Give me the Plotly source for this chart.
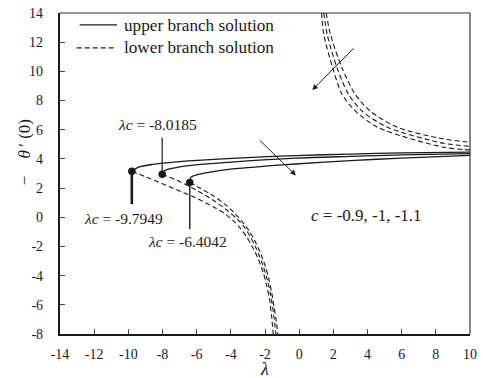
import plotly.graph_objects as go

# ---- data -------------------------------------------------------------
# critical points lambda_c and the corresponding -theta'(0)
lam_c = [-9.7949, -8.0185, -6.4042]
theta_c = [3.15, 2.95, 2.38]

# upper branch solutions (solid)
up1_x = [-9.7949, -9.4, -8.6, -7.5, -6.5, -5.0, -3.0, -0.2, 3.0, 6.0, 10.0]
up1_y = [3.15, 3.43, 3.62, 3.76, 3.86, 3.97, 4.09, 4.23, 4.33, 4.41, 4.47]
up2_x = [-8.0185, -7.86, -7.1, -5.75, -3.8, -0.2, 3.0, 6.0, 10.0]
up2_y = [2.95, 3.21, 3.43, 3.62, 3.80, 4.05, 4.17, 4.27, 4.36]
up3_x = [-6.4042, -6.33, -5.94, -5.2, -4.0, -2.0, -0.2, 3.0, 6.0, 10.0]
up3_y = [2.38, 2.75, 2.93, 3.10, 3.30, 3.50, 3.65, 3.88, 4.06, 4.24]

# lower branch solutions (dashed), left part
lo1_x = [-9.7949, -9.0, -8.0, -7.0, -6.0, -5.0, -4.3, -3.8, -3.45, -3.1, -2.75, -2.4, -2.1, -1.9, -1.74, -1.62, -1.52]
lo1_y = [3.15, 2.78, 2.3, 1.8, 1.3, 0.7, 0.2, -0.3, -0.75, -1.3, -2.0, -2.85, -3.8, -4.7, -5.6, -6.7, -8.0]
lo2_x = [-8.0185, -7.0, -6.0, -5.0, -4.22, -3.6, -3.2, -2.85, -2.49, -2.12, -1.84, -1.64, -1.49, -1.36]
lo2_y = [2.95, 2.45, 1.85, 1.15, 0.48, -0.15, -0.7, -1.35, -2.2, -3.3, -4.4, -5.5, -6.7, -8.0]
lo3_x = [-6.4042, -5.8, -5.0, -4.3, -3.8, -3.3, -2.95, -2.6, -2.3, -2.0, -1.78, -1.6, -1.46, -1.34, -1.25]
lo3_y = [2.38, 2.0, 1.45, 0.85, 0.3, -0.35, -0.9, -1.6, -2.35, -3.3, -4.2, -5.2, -6.2, -7.1, -8.0]

# lower branch solutions (dashed), right part
hi1_x = [1.58, 1.83, 2.5, 3.27, 4.13, 5.74, 8.45, 10.0]
hi1_y = [14.0, 12.54, 10.26, 8.45, 7.31, 6.17, 5.37, 5.14]
hi2_x = [1.44, 1.64, 2.21, 2.88, 3.65, 5.17, 8.45, 10.0]
hi2_y = [14.0, 12.54, 10.26, 8.45, 7.31, 6.17, 5.07, 4.87]
hi3_x = [1.31, 1.44, 1.96, 2.5, 3.27, 4.59, 8.45, 10.0]
hi3_y = [14.0, 12.54, 10.26, 8.45, 7.31, 6.17, 4.80, 4.62]

x_ticks = [-14, -12, -10, -8, -6, -4, -2, 0, 2, 4, 6, 8, 10]
x_tick_text = ["-14", "-12", "-10", "-8", "-6", "-4", "-2", "0", "2", "4", "6", "8", "10"]
y_ticks = [-8, -6, -4, -2, 0, 2, 4, 6, 8, 10, 12, 14]
y_tick_text = ["-8", "-6", "-4", "-2", "0", "2", "4", "6", "8", "10", "12", "14"]

# ---- figure -------------------------------------------------------------
FONT = "Liberation Serif, Times New Roman, serif"
INK = "#1a1a1a"
W, H = 483, 378
L, R, T, B = 60, 6, 12, 44
pw, ph = W - L - R, H - T - B


def px(x):
    return (x - L) / pw


def py(y):
    return (H - B - y) / ph


fig = go.Figure()

solid = dict(color=INK, width=1.3)
dashed = dict(color=INK, width=1.1, dash="5px,3px")

for xs, ys in [(up1_x, up1_y), (up2_x, up2_y), (up3_x, up3_y)]:
    fig.add_trace(go.Scatter(x=xs, y=ys, mode="lines", line=dict(**solid, shape="spline", smoothing=0.8),
                             showlegend=False, hoverinfo="skip"))
for xs, ys in [(lo1_x, lo1_y), (lo2_x, lo2_y), (lo3_x, lo3_y),
               (hi1_x, hi1_y), (hi2_x, hi2_y), (hi3_x, hi3_y)]:
    fig.add_trace(go.Scatter(x=xs, y=ys, mode="lines", line=dict(**dashed, shape="spline", smoothing=0.8),
                             showlegend=False, hoverinfo="skip"))

fig.add_trace(go.Scatter(x=lam_c, y=theta_c, mode="markers",
                         marker=dict(color=INK, size=7.5), showlegend=False, hoverinfo="skip"))

shapes = []
# leader lines from the critical points to their labels
shapes.append(dict(type="line", xref="x", yref="y", x0=lam_c[0], x1=lam_c[0], y0=theta_c[0], y1=0.9,
                   line=dict(color=INK, width=2.6)))
shapes.append(dict(type="line", xref="x", yref="y", x0=lam_c[1], x1=lam_c[1], y0=theta_c[1], y1=5.45,
                   line=dict(color=INK, width=1.2)))
shapes.append(dict(type="line", xref="x", yref="y", x0=lam_c[2], x1=lam_c[2], y0=theta_c[2], y1=-0.8,
                   line=dict(color=INK, width=1.4)))
# top and right frame
shapes.append(dict(type="line", xref="paper", yref="paper", x0=0, x1=1, y0=1, y1=1,
                   line=dict(color="#333", width=1.2)))
shapes.append(dict(type="line", xref="paper", yref="paper", x0=1, x1=1, y0=0, y1=1,
                   line=dict(color="#333", width=1.2)))
# legend samples
shapes.append(dict(type="line", xref="paper", yref="paper", x0=px(80), x1=px(118), y0=py(24), y1=py(24),
                   line=dict(color=INK, width=1.3)))
shapes.append(dict(type="line", xref="paper", yref="paper", x0=px(77), x1=px(116), y0=py(47), y1=py(47),
                   line=dict(color=INK, width=1.1, dash="5px,3px")))

ann = []
txt = dict(family=FONT, size=15.5, color=INK)
ann.append(dict(xref="paper", yref="paper", x=px(123), y=py(25), xanchor="left", yanchor="middle",
                text="upper branch solution", showarrow=False, font=dict(family=FONT, size=17.2, color=INK)))
ann.append(dict(xref="paper", yref="paper", x=px(123), y=py(47), xanchor="left", yanchor="middle",
                text="lower branch solution", showarrow=False, font=dict(family=FONT, size=17.2, color=INK)))
ann.append(dict(xref="x", yref="y", x=-8.27, y=6.35, text="<i>λc</i> = -8.0185", showarrow=False, font=txt))
ann.append(dict(xref="x", yref="y", x=-10.29, y=-0.07, text="<i>λc</i> = -9.7949", showarrow=False, font=txt))
ann.append(dict(xref="x", yref="y", x=-6.52, y=-1.64, text="<i>λc</i> = -6.4042", showarrow=False, font=txt))
ann.append(dict(xref="x", yref="y", x=3.95, y=0.13, text="<i>c</i> = -0.9, -1, -1.1", showarrow=False,
                font=dict(family=FONT, size=17, color=INK)))
# arrows showing the direction of increasing c
ann.append(dict(xref="x", yref="y", axref="x", ayref="y", x=-0.19, y=2.87, ax=-2.39, ay=5.37, text="",
                showarrow=True, arrowhead=2, arrowsize=1.1, arrowwidth=1, arrowcolor=INK))
ann.append(dict(xref="x", yref="y", axref="x", ayref="y", x=0.77, y=8.72, ax=3.27, ay=11.68, text="",
                showarrow=True, arrowhead=2, arrowsize=1.1, arrowwidth=1, arrowcolor=INK))
# axis titles
ann.append(dict(xref="paper", yref="paper", x=px(268), y=py(369), xanchor="center", yanchor="middle",
                text="<i>λ</i>", showarrow=False, font=dict(family=FONT, size=18, color=INK)))
ann.append(dict(xref="paper", yref="paper", x=px(24), y=py(152), xanchor="center", yanchor="middle",
                text="−\u2002\u2002<i>θ</i>\u2009′ (0)",
                textangle=-90, showarrow=False, font=dict(family=FONT, size=17, color=INK)))

fig.update_layout(
    width=W, height=H,
    margin=dict(l=L, r=R, t=T, b=B),
    paper_bgcolor="white", plot_bgcolor="white",
    shapes=shapes, annotations=ann,
    font=dict(family=FONT, color=INK),
)
fig.update_xaxes(range=[-14, 10], tickvals=x_ticks, ticktext=x_tick_text,
                 showgrid=False, zeroline=False, showline=True, linewidth=2.2, linecolor=INK,
                 ticks="inside", ticklen=5, tickwidth=1, tickcolor="#444",
                 tickfont=dict(family=FONT, size=14, color=INK), ticklabelstandoff=6,
                 ticklabeloverflow="allow")
fig.update_yaxes(range=[-8, 14], tickvals=y_ticks, ticktext=y_tick_text,
                 showgrid=False, zeroline=False, showline=True, linewidth=2.2, linecolor=INK,
                 ticks="inside", ticklen=5, tickwidth=1, tickcolor="#444",
                 tickfont=dict(family=FONT, size=14, color=INK), ticklabelstandoff=12,
                 ticklabeloverflow="allow")

fig.write_html("out.html")
